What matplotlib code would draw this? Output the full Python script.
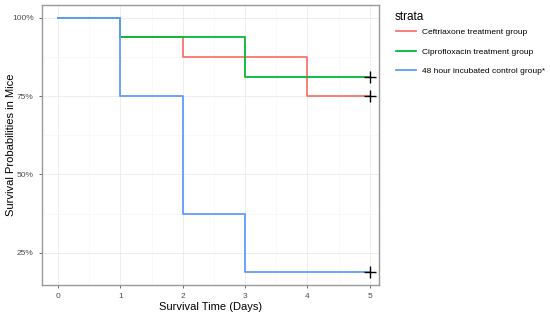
import matplotlib
matplotlib.use("Agg")
import matplotlib.pyplot as plt
from matplotlib.ticker import FuncFormatter, MultipleLocator

days = [0, 1, 2, 3, 4, 5]
groups = ["Ceftriaxone treatment group",
          "Ciprofloxacin treatment group",
          "48 hour incubated control group*"]
ceftriaxone = [1.0, 0.9375, 0.875, 0.875, 0.75, 0.75]
ciprofloxacin = [1.0, 0.9375, 0.9375, 0.8125, 0.8125, 0.8125]
control = [1.0, 0.75, 0.375, 0.1875, 0.1875, 0.1875]
colors = ["#F8766D", "#00BA38", "#619CFF"]

plt.rcParams['font.family'] = ['Liberation Sans', 'DejaVu Sans']

fig = plt.figure(figsize=(5.5, 3.2), dpi=100)
ax = fig.add_axes([42 / 550, 1 - 285 / 320, (379 - 42) / 550, (285 - 5) / 320])

for vals, col, name in zip([ceftriaxone, ciprofloxacin, control], colors, groups):
    ax.step(days, vals, where='post', color=col, lw=1.3, label=name)
    ax.plot(days[-1], vals[-1], marker='+', color='black', ms=9, mew=1.0, ls='none')

ax.set_xlim(-0.26, 5.15)
ax.set_ylim(0.147, 1.041)
ax.xaxis.set_major_locator(MultipleLocator(1))
ax.xaxis.set_minor_locator(MultipleLocator(0.5))
ax.set_yticks([0.25, 0.5, 0.75, 1.0])
ax.set_yticks([0.375, 0.625, 0.875], minor=True)
ax.yaxis.set_major_formatter(FuncFormatter(lambda v, p: f"{v * 100:.0f}%"))
ax.grid(True, which='major', color='#EBEBEB', lw=0.6)
ax.grid(True, which='minor', color='#F5F5F5', lw=0.4)
ax.set_axisbelow(True)
ax.tick_params(which='major', labelsize=6, labelcolor='#4D4D4D', color='#333333', length=2.5, width=0.5)
ax.tick_params(which='minor', length=0)
for s in ax.spines.values():
    s.set_color('#999999')
    s.set_linewidth(1.0)

ax.set_xlabel("Survival Time (Days)", fontsize=8, labelpad=1)
ax.set_ylabel("Survival Probabilities in Mice", fontsize=8)
ax.yaxis.set_label_coords(-0.078, 0.5)

fig.text(395 / 550, 1 - 17 / 320, "strata", fontsize=8.5, va='center', ha='left')
handles, labels = ax.get_legend_handles_labels()
leg = fig.legend(handles, labels, loc='upper left',
                 bbox_to_anchor=(388 / 550, 1 - 21 / 320), frameon=False,
                 fontsize=6, handlelength=2.4, labelspacing=1.4)

fig.savefig("out.png", dpi=100)
